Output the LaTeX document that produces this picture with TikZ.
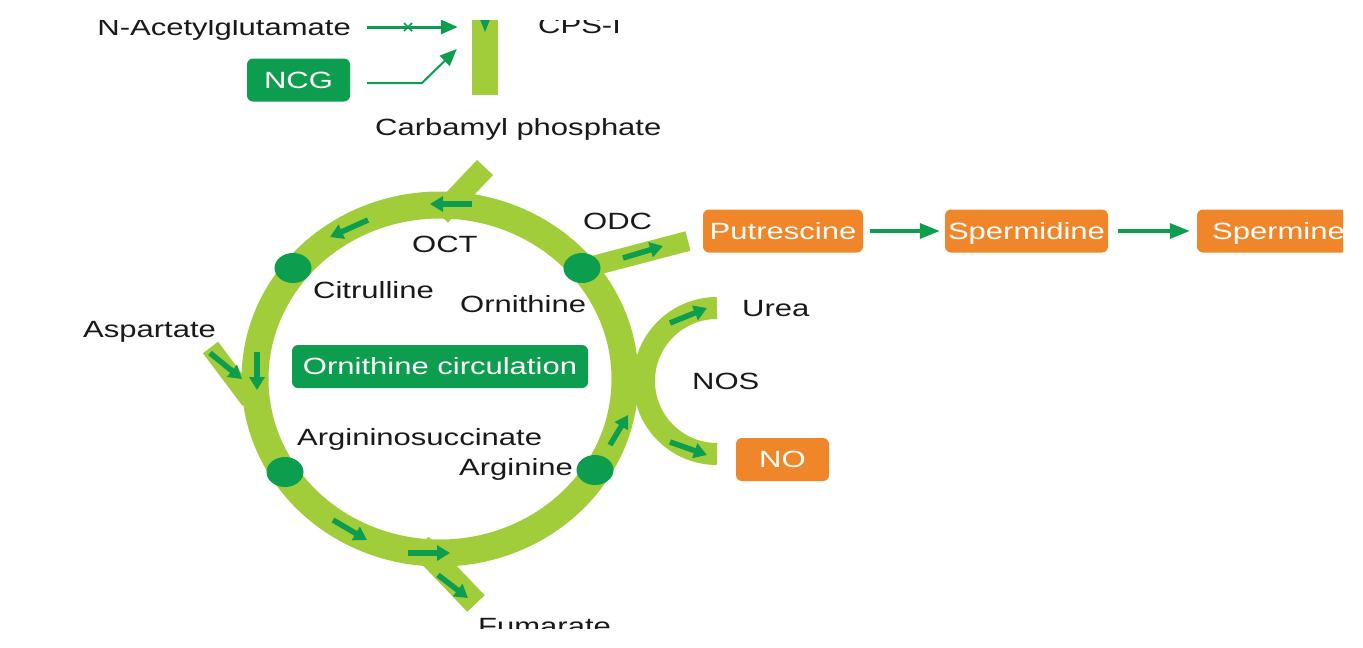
\documentclass[tikz,border=0pt]{standalone}
\usepackage{fontspec}
\setmainfont{Liberation Sans}[FakeStretch=1.32]
\usetikzlibrary{arrows.meta,shapes.geometric}
\definecolor{lg}{RGB}{162,205,58}
\definecolor{dg}{RGB}{12,157,78}
\definecolor{og}{RGB}{240,134,42}
\definecolor{tx}{RGB}{25,25,25}
\begin{document}
\begin{tikzpicture}[x=1pt,y=-1pt,
  lbl/.style={font=\fontsize{23.5}{28}\selectfont, text=tx, inner sep=0pt, text height=16.8pt, text depth=0pt},
  tbox/.style={lbl, text=white, rounded corners=6pt, minimum height=43pt},
  obox/.style={tbox, fill=og},
  gbox/.style={tbox, fill=dg},
  band/.style={draw=lg, line width=22pt},
  dot/.style={ellipse, fill=dg, minimum width=37pt, minimum height=30pt, inner sep=0pt},
  flow/.style={draw=dg, line width=5.5pt, -{Triangle[length=13pt,width=15pt]}},
  conn/.style={draw=dg, line width=3.5pt, -{Triangle[length=20pt,width=15pt]}},
  thinconn/.style={draw=dg, line width=3pt, -{Triangle[length=17pt,width=14pt]}}]
\useasboundingbox (0,0) rectangle (1363,648);
\fill[white] (0,0) rectangle (1363,648);
\begin{scope}
\clip (0,20) rectangle (1343,628);
% ring and stubs
\draw[lg, line width=27pt] (440,379) ellipse [x radius=185, y radius=174];
\draw[band] (440,215) -- (485,167.5);
\draw[band, line width=20pt] (585,268) -- (688,241);
\draw[band, line width=19pt] (210.5,347.5) -- (250,400);
\draw[band, line width=24pt] (420,545) -- (476,603.5);
\draw[band] (717,308) arc[start angle=270, end angle=90, radius=73];
% CPS-I bar
\node[fill=lg, minimum width=26pt, minimum height=100pt, inner sep=0pt] (cps) at (485,45) {};
\fill[dg] (477,12) -- (493,12) -- (485,32) -- cycle;
% dots
\node[dot] (dcit) at (293,268) {};
\node[dot] (dorn) at (582,268) {};
\node[dot] (dasu) at (285,472) {};
\node[dot] (darg) at (595,470) {};
% flow arrows
\draw[flow] (472,204) -- (430,204);
\draw[flow] (368,220) -- (330,237);
\draw[flow] (623,258) -- (663,246);
\draw[flow] (210,353) -- (242,379);
\draw[flow] (257,352) -- (257,390);
\draw[flow] (333,520) -- (367,540);
\draw[flow] (408,553) -- (450,553);
\draw[flow] (438,575) -- (468,598);
\draw[flow] (610,445) -- (628,415);
\draw[flow] (670,323) -- (707,308);
\draw[flow] (670,442) -- (707,455);
% labels
\node[lbl, anchor=east] (nag) at (351,27) {N-Acetylglutamate};
\node[lbl, anchor=west] (cpsl) at (538,24.6) {CPS-I};
\node[gbox, minimum width=103pt] (ncg) at (298.5,80) {NCG};
\node[lbl, anchor=west] (carb) at (375,127) {Carbamyl phosphate};
\node[lbl, anchor=west] (odc) at (583,220.6) {ODC};
\node[lbl, anchor=west] (oct) at (412,243.6) {OCT};
\node[lbl, anchor=west] (cit) at (313,289.6) {Citrulline};
\node[lbl, anchor=west] (orn) at (460,303.6) {Ornithine};
\node[lbl, anchor=west] (asp) at (83,328.6) {Aspartate};
\node[gbox, minimum width=296pt] (circ) at (440,366.5) {Ornithine circulation};
\node[lbl, anchor=west] (nos) at (692,380.6) {NOS};
\node[lbl, anchor=west] (urea) at (742,307.6) {Urea};
\node[lbl, anchor=west] (asu) at (297,436.6) {Argininosuccinate};
\node[lbl, anchor=west] (arg) at (459,466.6) {Arginine};
\node[obox, minimum width=93pt] (no) at (782.5,459.5) {NO};
\node[lbl, anchor=west] (fum) at (478,626.4) {Fumarate};
\node[obox, minimum width=160pt] (put) at (783,231) {Putrescine};
\node[obox, minimum width=163pt] (spd) at (1026.5,231) {Spermidine};
\node[obox, minimum width=163pt] (spm) at (1278.5,231) {Spermine};
% connectors
\draw[thinconn, shorten <=16pt, shorten >=14pt] (nag.east) -- (cps.west |- nag.east);
\draw[dg, line width=1.6pt] (404,23) -- (412,31) (404,31) -- (412,23);
\coordinate (ncgbend) at (422,83);
\draw[thinconn, line width=2pt] ([xshift=17pt,yshift=-3pt]ncg.east) -- (ncgbend) -- ([xshift=-15pt,yshift=-4pt]cps.west);
\draw[conn, shorten <=7pt, shorten >=5pt] (put) -- (spd);
\draw[conn, shorten <=10pt, shorten >=7pt] (spd) -- (spm);
\end{scope}
\end{tikzpicture}
\end{document}
